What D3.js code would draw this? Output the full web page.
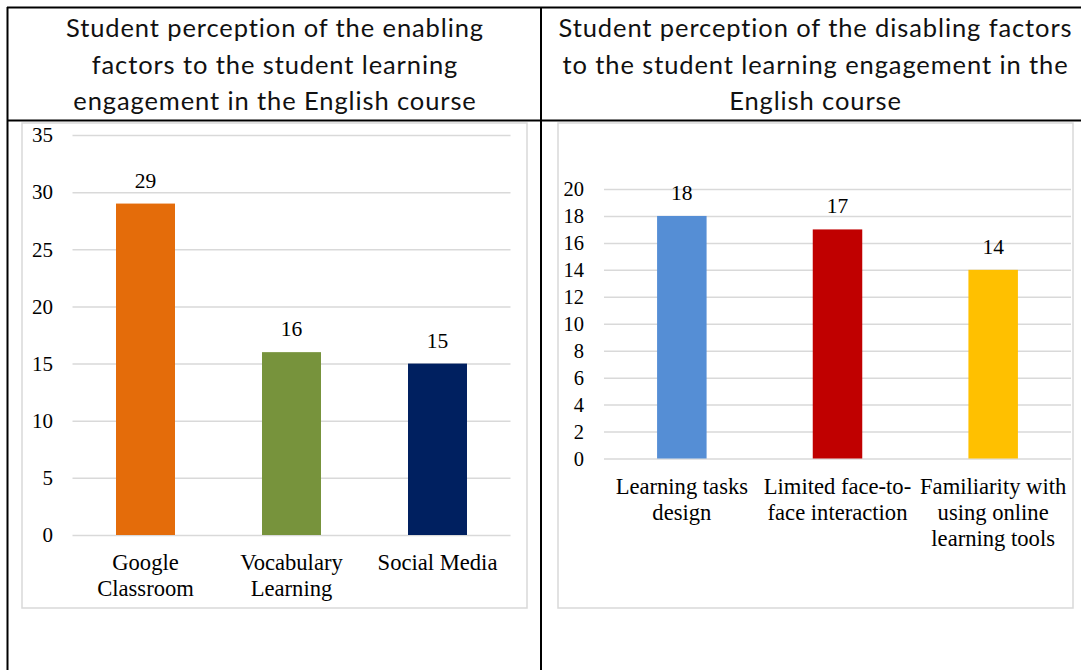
<!DOCTYPE html>
<html><head><meta charset="utf-8">
<script src="https://cdn.jsdelivr.net/npm/d3@7"></script>
<style>html,body{margin:0;padding:0;background:#fff;}svg{display:block;}</style>
</head><body>
<svg id="c" width="1081" height="670"></svg>
<script>
// ---- data ----
const leftTitle = ["Student perception of the enabling", "factors to the student learning", "engagement in the English course"];
const rightTitle = ["Student perception of the disabling factors", "to the student learning engagement in the", "English course"];
const enablingCategories = [["Google", "Classroom"], ["Vocabulary", "Learning"], ["Social Media"]];
const enablingValues = [29, 16, 15];
const enablingColors = ["#E46C0A", "#77933C", "#002060"];
const enablingTicks = [0, 5, 10, 15, 20, 25, 30, 35];
const disablingCategories = [["Learning tasks", "design"], ["Limited face-to-", "face interaction"], ["Familiarity with", "using online", "learning tools"]];
const disablingValues = [18, 17, 14];
const disablingColors = ["#558ED5", "#C00000", "#FFC000"];
const disablingTicks = [0, 2, 4, 6, 8, 10, 12, 14, 16, 18, 20];

const svg = d3.select("#c");
const serif = "'Liberation Serif','Times New Roman',serif";
const sans = "Lato,'Open Sans',sans-serif";

// ---- table ----
const table = svg.append("g");
const tl = [[7, 7.5, 1081, 7.5], [7.5, 7, 7.5, 670], [7, 120.5, 1081, 120.5], [541, 7, 541, 670]];
table.selectAll("line").data(tl).join("line")
  .attr("x1", d => d[0]).attr("y1", d => d[1]).attr("x2", d => d[2]).attr("y2", d => d[3])
  .attr("stroke", "#000").attr("stroke-width", 2);

function title(lines, cx) {
  svg.append("text").attr("x", cx).attr("y", 37).attr("text-anchor", "middle")
    .style("font-family", sans).style("font-size", "25.5px").style("letter-spacing", "0.9px").attr("fill", "#111")
    .selectAll("tspan").data(lines).join("tspan")
    .attr("x", cx).attr("dy", (d, i) => i ? 36.5 : 0).text(d => d);
}
title(leftTitle, 275);
title(rightTitle, 815.5);

function chart(o) {
  const g = svg.append("g");
  g.append("rect").attr("x", o.frame[0]).attr("y", o.frame[1])
    .attr("width", o.frame[2] - o.frame[0]).attr("height", o.frame[3] - o.frame[1])
    .attr("fill", "#fff").attr("stroke", "#d9d9d9").attr("stroke-width", 1.5);
  const y = d3.scaleLinear().domain(o.domain).range(o.yRange);
  const x = d3.scaleBand().domain(d3.range(o.values.length)).range(o.xRange)
    .paddingInner(o.pad).paddingOuter(o.pad / 2);
  // gridlines
  const grid = d3.axisLeft(y).tickValues(o.ticks).tickSize(-(o.xRange[1] - o.xRange[0])).tickFormat("");
  const gg = g.append("g").attr("transform", `translate(${o.xRange[0]},0)`).call(grid);
  gg.select(".domain").remove();
  gg.selectAll("line").attr("stroke", "#d9d9d9").attr("stroke-width", 1.5);
  // tick labels
  const ax = d3.axisLeft(y).tickValues(o.ticks).tickSize(0).tickPadding(0);
  const ag = g.append("g").attr("transform", `translate(${o.tickX},0)`).call(ax)
    .attr("font-family", serif).attr("font-size", o.tickFont);
  ag.select(".domain").remove();
  ag.selectAll("text").style("font-family", serif).style("font-size", o.tickFont + "px").attr("fill", "#000");
  // bars
  g.selectAll("rect.bar").data(o.values).join("rect").attr("class", "bar")
    .attr("x", (d, i) => x(i)).attr("width", x.bandwidth())
    .attr("y", d => y(d)).attr("height", d => y(0) - y(d))
    .attr("fill", (d, i) => o.colors[i]);
  // value labels
  g.selectAll("text.val").data(o.values).join("text").attr("class", "val")
    .attr("x", (d, i) => x(i) + x.bandwidth() / 2).attr("y", d => y(d) - 16)
    .attr("text-anchor", "middle").style("font-family", serif).style("font-size", "21.5px").text(d => d);
  // category labels
  const cl = g.selectAll("text.cat").data(o.cats).join("text").attr("class", "cat")
    .attr("text-anchor", "middle").style("font-family", serif).style("font-size", "22.6px")
    .attr("y", y(0) + 35);
  cl.selectAll("tspan").data((d, i) => d.map(s => ({s, i}))).join("tspan")
    .attr("x", d => x(d.i) + x.bandwidth() / 2).attr("dy", (d, j) => j ? 26 : 0).text(d => d.s);
}

chart({frame: [22, 123, 527, 608], domain: [0, 35], yRange: [535, 135], xRange: [72.5, 510.5],
  pad: 0.596, ticks: enablingTicks, values: enablingValues, colors: enablingColors,
  cats: enablingCategories, tickX: 53, tickFont: 21});
chart({frame: [558, 123, 1073, 608], domain: [0, 20], yRange: [458.5, 189], xRange: [604, 1071],
  pad: 0.682, ticks: disablingTicks, values: disablingValues, colors: disablingColors,
  cats: disablingCategories, tickX: 584, tickFont: 20.5});
</script>
</body></html>
